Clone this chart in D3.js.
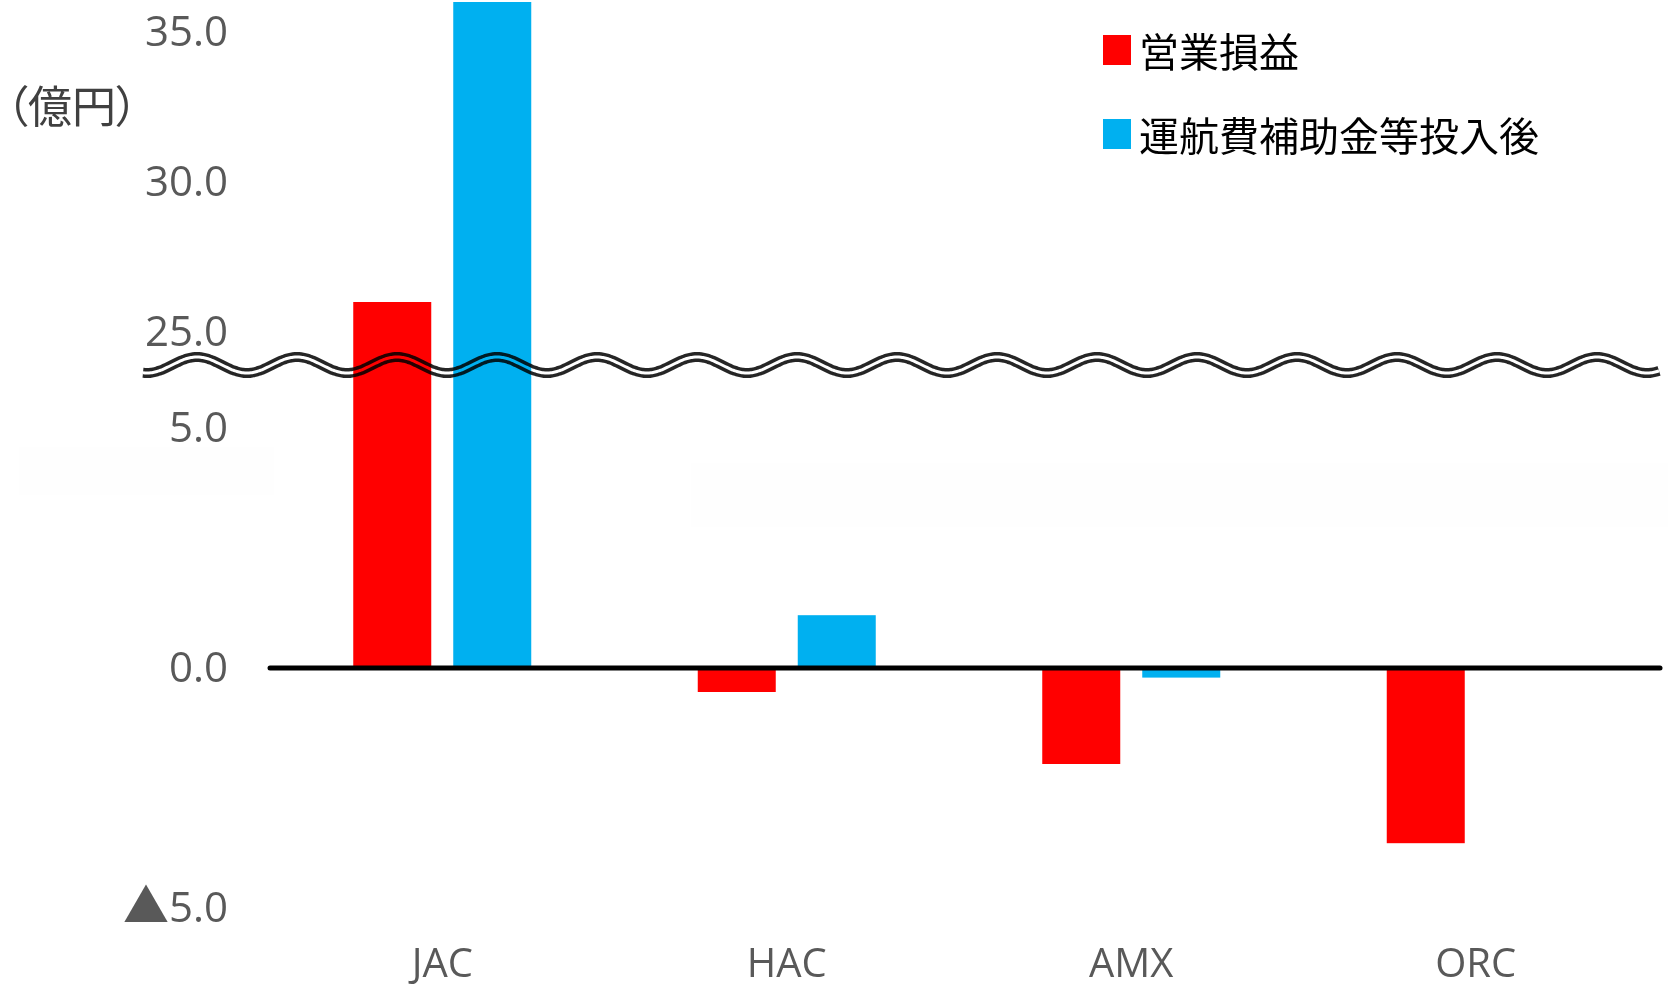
<!DOCTYPE html>
<html>
<head>
<meta charset="utf-8">
<script src="https://cdn.jsdelivr.net/npm/d3@7"></script>
<style>
  body { margin: 0; background: #fff; }
  svg { display: block; }
  .tick text { font-family: "Open Sans", "Noto Sans", "Noto Sans CJK JP", sans-serif; fill: #595959; }
</style>
</head>
<body>
<div id="chart"></div>
<script>
// data
const categories = ["JAC", "HAC", "AMX", "ORC"];
const seriesNames = ["営業損益", "運航費補助金等投入後"];
const operatingProfit = [26.0, -0.5, -2.0, -3.65];
const afterSubsidy = [36.0, 1.1, -0.2, 0.0];
const upperTicks = [25, 30, 35];
const lowerTicks = [-5, 0, 5];
const colors = ["#FF0000", "#00B0F0"];

const width = 1668, height = 986;

const svg = d3.select("#chart").append("svg")
    .attr("width", width)
    .attr("height", height);

// faint leftover boxes in the source image
svg.append("rect").attr("x", 19).attr("y", 447).attr("width", 255).attr("height", 48).attr("fill", "#fefefe");
svg.append("rect").attr("x", 691).attr("y", 463).attr("width", 977).attr("height", 64).attr("fill", "#fefefe");

// broken axis: lower part -5..5, upper part 25..35
const yLow = d3.scaleLinear().domain([-5, 5]).range([908, 428]);
const yHigh = d3.scaleLinear().domain([25, 35]).range([332, 32]);
const lowMax = 5;
const breakY = 365;

function yPos(v) {
    return v > lowMax ? yHigh(v) : yLow(v);
}

const x0 = d3.scaleBand().domain(categories).range([270, 1648]);
const x1 = d3.scaleBand()
    .domain(seriesNames)
    .range([x0.bandwidth() / 2 - 89, x0.bandwidth() / 2 + 89])
    .paddingInner(0.22);

const rows = categories.map((c, i) => ({
    cat: c,
    values: [
        {name: seriesNames[0], v: operatingProfit[i], color: colors[0]},
        {name: seriesNames[1], v: afterSubsidy[i], color: colors[1]}
    ]
}));

// y tick labels, negatives shown with a ▲ prefix
const fmt = d3.format(".1f");
[[yHigh, upperTicks], [yLow, lowerTicks]].forEach(([sc, ticks]) => {
    const g = svg.append("g")
        .attr("transform", "translate(228,0)")
        .call(d3.axisLeft(sc).tickValues(ticks).tickFormat(d => fmt(Math.abs(d))).tickSize(0).tickPadding(0));
    g.select(".domain").remove();
    g.selectAll("text").style("font-size", "42px");
    g.selectAll(".tick").filter(d => d < 0).select("text").each(function(d) {
        const t = d3.select(this).text(null);
        t.append("tspan")
            .style("font-family", "'Noto Sans CJK JP', sans-serif")
            .style("font-size", "46px")
            .text("▲");
        t.append("tspan").text(fmt(Math.abs(d)));
    });
});

// x labels
const gx = svg.append("g")
    .attr("transform", "translate(0,949)")
    .call(d3.axisBottom(x0).tickSize(0).tickPadding(0));
gx.select(".domain").remove();
gx.selectAll("text").style("font-size", "40px");

// bars
const y0 = yLow(0);
svg.append("g").selectAll("g")
    .data(rows)
    .enter().append("g")
    .attr("transform", d => "translate(" + x0(d.cat) + ",0)")
    .selectAll("rect")
    .data(d => d.values)
    .enter().append("rect")
    .attr("x", d => x1(d.name))
    .attr("width", x1.bandwidth())
    .attr("y", d => Math.min(yPos(d.v), y0))
    .attr("height", d => Math.abs(yPos(d.v) - y0))
    .attr("fill", d => d.color);

// zero line
svg.append("line")
    .attr("x1", 270).attr("x2", 1660)
    .attr("y1", y0).attr("y2", y0)
    .attr("stroke", "#000")
    .attr("stroke-width", 5)
    .attr("stroke-linecap", "round");

// wavy break marker
const wavePts = d3.range(143, 1661, 2).map(x => [x, breakY - 8 * Math.cos(2 * Math.PI * (x - 197) / 100)]);
const waveLine = d3.line().curve(d3.curveBasis);
const wave = svg.append("g").style("mix-blend-mode", "multiply");
wave.append("path")
    .attr("d", waveLine(wavePts))
    .attr("fill", "none")
    .attr("stroke", "#000")
    .attr("stroke-opacity", 0.85)
    .attr("stroke-width", 10);
wave.append("path")
    .attr("d", waveLine(wavePts))
    .attr("fill", "none")
    .attr("stroke", "#fff")
    .attr("stroke-width", 3);

// unit label
svg.append("text")
    .attr("x", 6)
    .attr("y", 104)
    .attr("dominant-baseline", "central")
    .style("font-family", "'Noto Sans CJK JP', sans-serif")
    .style("font-feature-settings", "'palt'")
    .style("font-size", "44px")
    .attr("fill", "#404040")
    .text("（億円）");

// legend
const legend = svg.append("g").selectAll("g")
    .data(seriesNames)
    .enter().append("g")
    .attr("transform", (d, i) => "translate(1103," + (50 + i * 84) + ")");
legend.append("rect")
    .attr("x", 0).attr("y", -15)
    .attr("width", 28).attr("height", 30)
    .attr("fill", (d, i) => colors[i]);
legend.append("text")
    .attr("x", 36)
    .attr("y", 0)
    .attr("dominant-baseline", "central")
    .style("font-family", "'Noto Sans CJK JP', sans-serif")
    .style("font-size", "40px")
    .attr("fill", "#000")
    .text(d => d);
</script>
</body>
</html>
